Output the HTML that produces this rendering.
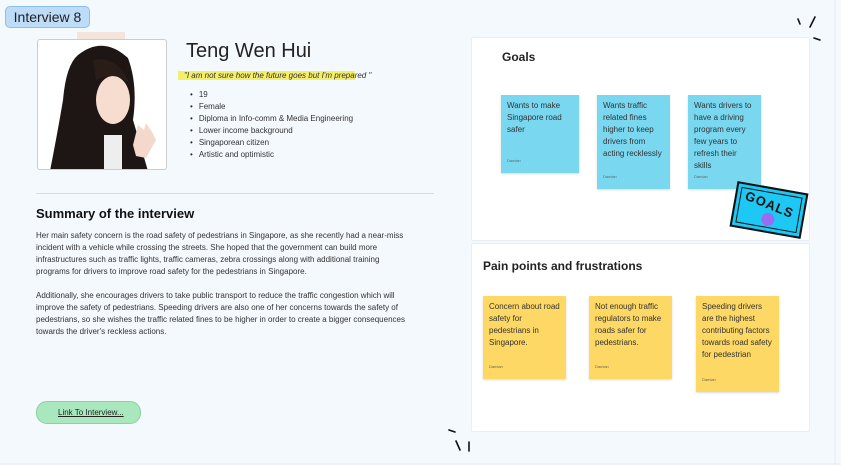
<!DOCTYPE html>
<html><head><meta charset="utf-8"><style>
*{margin:0;padding:0;box-sizing:border-box}
body{width:841px;height:465px;background:#f4f9fe;font-family:"Liberation Sans",sans-serif;color:#222;position:relative;overflow:hidden}
.a{position:absolute}
.tag{left:5px;top:6px;width:85px;height:22px;background:#bcdcf8;border:1px solid #8fbfe8;border-radius:5px;font-size:14px;line-height:20px;text-align:center;color:#222}
.photo{left:37px;top:39px;width:130px;height:131px;background:#fff;border:1px solid #ccc;border-radius:3px;overflow:hidden}
.name{left:186px;top:40px;font-size:20px;color:#222}
.quote{left:178px;top:71px;font-size:8px;font-style:italic;color:#333}
.quote span{background:#f5ee6a;padding:0 0 0 6px}
ul{left:190px;top:89px;font-size:8px;line-height:12px;list-style:none;color:#333}
ul li:before{content:"•";margin-right:6px}
.hr{left:36px;top:193px;width:398px;height:1px;background:#f0dc9c}
.h2{left:36px;top:206px;font-size:13px;font-weight:bold;color:#111}
.p{left:36px;top:230px;width:378px;font-size:8px;line-height:12px;color:#333}
.btn{left:36px;top:401px;width:105px;height:23px;background:#a8e8bc;border:1px solid #8ccfa0;border-radius:11px;font-size:8px;line-height:21px;text-decoration:underline;padding-left:21px;color:#222}
.panel{background:#fff;border:1px solid #e8eef3;border-radius:2px}
.st{font-size:8px;line-height:12px;padding:5px 6px;color:#333}
.st small{position:absolute;bottom:6px;left:6px;font-size:4px;color:#666}
.b{background:#79d7f0;box-shadow:0 1px 2px rgba(0,0,0,.15)}
.y{background:#fdd865;box-shadow:0 1px 2px rgba(0,0,0,.15)}
</style></head><body>
<div class="a tag">Interview 8</div>
<div class="a" style="left:77px;top:32px;width:48px;height:8px;background:#f3e4dc"></div>
<div class="a photo">
<svg width="130" height="131" viewBox="0 0 130 131">
<path d="M40 15 Q65 -5 90 18 Q100 45 95 80 L110 131 L12 131 Q20 90 25 60 Q28 25 40 15Z" fill="#1e1614"/>
<ellipse cx="75" cy="60" rx="17" ry="24" fill="#f6ddd0"/>
<path d="M55 20 Q80 15 92 45 Q80 30 58 40Z" fill="#2a1d18"/>
<rect x="66" y="95" width="18" height="36" fill="#eee"/>
<path d="M95 105 L100 85 L106 90 L108 83 L114 92 L118 100 L108 118 L98 116Z" fill="#f5d8cc"/>
</svg></div>
<div class="a name">Teng Wen Hui</div>
<div class="a quote"><span>"I am not sure how the future goes but I'm prepa</span>red "</div>
<ul class="a"><li>19</li><li>Female</li><li>Diploma in Info-comm &amp; Media Engineering</li><li>Lower income background</li><li>Singaporean citizen</li><li>Artistic and optimistic</li></ul>
<div class="a hr"></div>
<div class="a h2">Summary of the interview</div>
<div class="a p">Her main safety concern is the road safety of pedestrians in Singapore, as she recently had a near-miss incident with a vehicle while crossing the streets. She hoped that the government can build more infrastructures such as traffic lights, traffic cameras, zebra crossings along with additional training programs for drivers to improve road safety for the pedestrians in Singapore.<br><br>Additionally, she encourages drivers to take public transport to reduce the traffic congestion which will improve the safety of pedestrians. Speeding drivers are also one of her concerns towards the safety of pedestrians, so she wishes the traffic related fines to be higher in order to create a bigger consequences towards the driver's reckless actions.</div>
<div class="a btn">Link To Interview...</div>

<div class="a panel" style="left:471px;top:37px;width:339px;height:204px"></div>
<div class="a" style="left:502px;top:50px;font-size:12px;font-weight:bold;color:#222">Goals</div>
<div class="a st b" style="left:501px;top:95px;width:78px;height:78px">Wants to make Singapore road safer<small>Damian</small></div>
<div class="a st b" style="left:597px;top:95px;width:73px;height:94px">Wants traffic related fines higher to keep drivers from acting recklessly<small>Damian</small></div>
<div class="a st b" style="left:688px;top:95px;width:73px;height:94px">Wants drivers to have a driving program every few years to refresh their skills<small>Damian</small></div>
<div class="a" style="left:733px;top:187px;width:72px;height:46px;background:#1ec8f4;transform:rotate(10deg);border:2px solid #111;box-shadow:inset 0 0 0 3px #1ec8f4,inset 0 0 0 4px #111">
<div style="position:absolute;left:8px;top:8px;font:900 13px 'Liberation Sans',sans-serif;letter-spacing:1px;color:#111;transform:rotate(12deg)">GOALS</div>
<div style="position:absolute;left:28px;top:24px;width:13px;height:13px;border-radius:50%;background:#9a6cf0"></div></div>

<div class="a panel" style="left:471px;top:243px;width:339px;height:189px"></div>
<div class="a" style="left:483px;top:259px;font-size:12px;font-weight:bold;color:#222">Pain points and frustrations</div>
<div class="a st y" style="left:483px;top:296px;width:83px;height:83px">Concern about road safety for pedestrians in Singapore.<small>Damian</small></div>
<div class="a st y" style="left:589px;top:296px;width:83px;height:83px">Not enough traffic regulators to make roads safer for pedestrians.<small>Damian</small></div>
<div class="a st y" style="left:696px;top:296px;width:83px;height:96px">Speeding drivers are the highest contributing factors towards road safety for pedestrian<small>Damian</small></div>

<svg class="a" style="left:0;top:0" width="841" height="465">
<g stroke="#111" stroke-width="1.6" stroke-linecap="round">
<line x1="798" y1="19" x2="800" y2="24"/><line x1="815" y1="17" x2="810" y2="27"/><line x1="814" y1="38" x2="820" y2="40"/>
<line x1="449" y1="430" x2="455" y2="432"/><line x1="456" y1="441" x2="460" y2="450"/><line x1="469" y1="442" x2="469" y2="451"/>
</g>
<line x1="835" y1="0" x2="835" y2="465" stroke="#e2ecf5"/>
<line x1="0" y1="464" x2="841" y2="464" stroke="#e2ecf5"/>
</svg>
</body></html>
